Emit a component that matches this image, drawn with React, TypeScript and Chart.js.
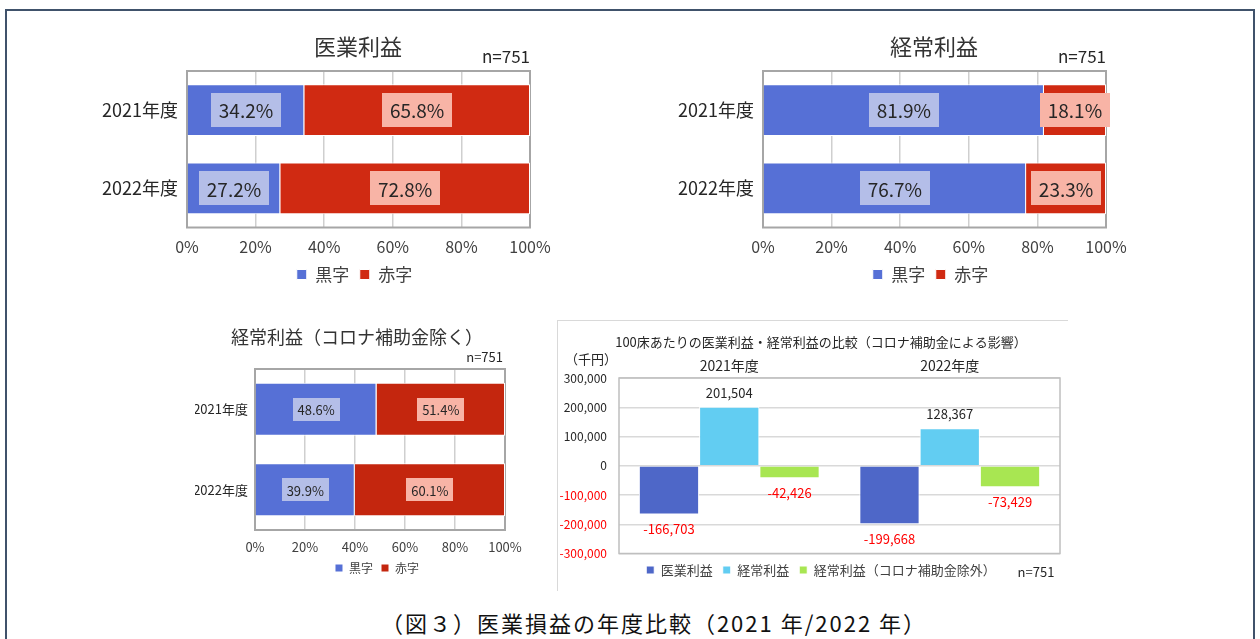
import React, { useEffect, useRef } from 'react';
import { Chart, registerables } from 'chart.js';
Chart.register(...registerables);

const FONT = '"Noto Sans CJK JP", "Noto Sans", sans-serif';

// ---- data ----
const years = ['2021年度', '2022年度'];
const profitNames = ['黒字', '赤字'];
const iryoKuroji = [34.2, 27.2];
const iryoAkaji = [65.8, 72.8];
const keijoKuroji = [81.9, 76.7];
const keijoAkaji = [18.1, 23.3];
const exKuroji = [48.6, 39.9];
const exAkaji = [51.4, 60.1];
const perBedNames = ['医業利益', '経常利益', '経常利益（コロナ補助金除外）'];
const perBedIryo = [-166703, -199668];
const perBedKeijo = [201504, 128367];
const perBedKeijoEx = [-42426, -73429];
const perBedTicks = [-300000, -200000, -100000, 0, 100000, 200000, 300000];

const fmt = (v: number) => Number(v).toLocaleString('en-US');

function measureWidest(labels: string[], size: number) {
  const c = document.createElement('canvas').getContext('2d') as CanvasRenderingContext2D;
  c.font = `normal ${size}px ${FONT}`;
  return Math.max(...labels.map((l) => c.measureText(l).width));
}

type TextItem = { text: string; x: number; y: number; size: number; align?: CanvasTextAlign; color?: string };

const textsPlugin = (items: TextItem[]) => ({
  id: 'texts',
  afterDraw(chart: any) {
    const ctx = chart.ctx;
    ctx.save();
    for (const t of items) {
      ctx.font = `${t.size}px ${FONT}`;
      ctx.fillStyle = t.color || '#262626';
      ctx.textAlign = t.align || 'center';
      ctx.textBaseline = 'middle';
      ctx.fillText(t.text, t.x, t.y);
    }
    ctx.restore();
  },
});

const framePlugin = (color: string, width: number) => ({
  id: 'frame',
  beforeDatasetsDraw(chart: any) {
    const { left, top, right, bottom } = chart.chartArea;
    const ctx = chart.ctx;
    ctx.save();
    ctx.strokeStyle = color;
    ctx.lineWidth = width;
    ctx.strokeRect(left, top, right - left, bottom - top);
    ctx.restore();
  },
});

const boxLabelPlugin = (boxColors: string[], size: number, padX: number, boxH: number) => ({
  id: 'boxLabels',
  afterDatasetsDraw(chart: any) {
    const ctx = chart.ctx;
    ctx.save();
    ctx.font = `${size}px ${FONT}`;
    ctx.textAlign = 'center';
    ctx.textBaseline = 'middle';
    chart.data.datasets.forEach((ds: any, i: number) => {
      const meta = chart.getDatasetMeta(i);
      meta.data.forEach((el: any, j: number) => {
        const txt = Number(ds.data[j]).toFixed(1) + '%';
        const cx = (el.x + el.base) / 2;
        const cy = el.y;
        const w = ctx.measureText(txt).width + padX * 2;
        ctx.fillStyle = boxColors[i];
        ctx.fillRect(Math.round(cx - w / 2), Math.round(cy - boxH / 2), Math.round(w), boxH);
        ctx.fillStyle = '#262626';
        ctx.fillText(txt, cx, cy + 1);
      });
    });
    ctx.restore();
  },
});

const valueLabelPlugin = {
  id: 'valueLabels',
  afterDatasetsDraw(chart: any) {
    const ctx = chart.ctx;
    ctx.save();
    ctx.font = `13px ${FONT}`;
    ctx.textAlign = 'center';
    ctx.textBaseline = 'middle';
    chart.data.datasets.forEach((ds: any, i: number) => {
      const meta = chart.getDatasetMeta(i);
      meta.data.forEach((el: any, j: number) => {
        const v = Number(ds.data[j]);
        const txt = fmt(v);
        if (v >= 0) {
          ctx.fillStyle = '#262626';
          ctx.fillText(txt, el.x, el.y - 14);
        } else {
          ctx.fillStyle = '#ff0000';
          ctx.fillText(txt, el.x, el.y + 15);
        }
      });
    });
    ctx.restore();
  },
};

function stackedConfig(opts: {
  kuroji: number[]; akaji: number[]; blue: string; red: string; yW: number; padL: number; padR: number; padT: number; padB: number;
  xH: number; labelSize: number; tickSize: number; tickPad: number; legendSize: number; legendBox: number; legendPad: number;
  barPct: number; frameW: number; gridW: number; yGap: number;
  texts: TextItem[]; boxPadX: number; boxH: number; dataSize: number;
}) {
  const widest = measureWidest(years, opts.labelSize);
  return {
    type: 'bar',
    data: {
      labels: years,
      datasets: [
        { label: profitNames[0], data: opts.kuroji, backgroundColor: opts.blue, borderColor: '#ffffff', borderWidth: 1, categoryPercentage: 1, barPercentage: opts.barPct },
        { label: profitNames[1], data: opts.akaji, backgroundColor: opts.red, borderColor: '#ffffff', borderWidth: 1, categoryPercentage: 1, barPercentage: opts.barPct },
      ],
    },
    options: {
      indexAxis: 'y',
      animation: false,
      responsive: false,
      maintainAspectRatio: false,
      layout: { padding: { left: opts.padL, right: opts.padR, top: opts.padT, bottom: opts.padB } },
      scales: {
        x: {
          stacked: true, min: 0, max: 100,
          ticks: { stepSize: 20, callback: (v: any) => v + '%', font: { family: FONT, size: opts.tickSize }, color: '#404040', padding: opts.tickPad, maxRotation: 0 },
          grid: { color: '#cfcfcf', lineWidth: opts.gridW, drawTicks: false },
          border: { display: false },
          afterFit: (a: any) => { a.height = opts.xH; },
        },
        y: {
          stacked: true,
          ticks: { font: { family: FONT, size: opts.labelSize }, color: '#262626', mirror: true, crossAlign: 'far', padding: -(opts.yGap + widest) },
          grid: { display: false, drawTicks: false },
          border: { display: false },
          afterFit: (a: any) => { a.width = opts.yW; },
        },
      },
      plugins: {
        legend: {
          position: 'bottom',
          labels: { font: { family: FONT, size: opts.legendSize }, color: '#404040', boxWidth: opts.legendBox, boxHeight: opts.legendBox, padding: opts.legendPad },
        },
        title: { display: false },
        tooltip: { enabled: false },
      },
    },
    plugins: [framePlugin('#a6a6a6', opts.frameW), boxLabelPlugin(['#b4bee8', '#f8b4a6'], opts.dataSize, opts.boxPadX, opts.boxH), textsPlugin(opts.texts)],
  };
}

function ChartCanvas({ config, left, top, width, height }: { config: () => any; left: number; top: number; width: number; height: number }) {
  const ref = useRef<HTMLCanvasElement>(null);
  useEffect(() => {
    const chart = new Chart(ref.current as HTMLCanvasElement, config());
    return () => chart.destroy();
  }, []);
  return (
    <div style={{ position: 'absolute', left, top, width, height }}>
      <canvas ref={ref} width={width} height={height} style={{ width, height, display: 'block' }} />
    </div>
  );
}

const bigOpts = {
  yW: 8, padL: 103, padR: 110, padT: 51, padB: 2, xH: 28, labelSize: 18, tickSize: 16, tickPad: 10,
  legendSize: 17, legendBox: 10, legendPad: 10.5, barPct: 0.66, frameW: 2, gridW: 1.5, yGap: 9,
  boxPadX: 8, boxH: 34, dataSize: 19,
};

const chart1 = () => stackedConfig({
  ...bigOpts, kuroji: iryoKuroji, akaji: iryoAkaji, blue: '#5670d6', red: '#d02a12',
  texts: [
    { text: '医業利益', x: 282, y: 27, size: 22, color: '#333333' },
    { text: 'n=751', x: 454, y: 37, size: 17, align: 'right' },
  ],
});

const chart2 = () => stackedConfig({
  ...bigOpts, kuroji: keijoKuroji, akaji: keijoAkaji, blue: '#5670d6', red: '#d02a12',
  texts: [
    { text: '経常利益', x: 282, y: 27, size: 22, color: '#333333' },
    { text: 'n=751', x: 454, y: 37, size: 17, align: 'right' },
  ],
});

const chart3 = () => stackedConfig({
  yW: 6, padL: 54, padR: 52, padT: 49, padB: 2, xH: 24, labelSize: 13, tickSize: 13, tickPad: 9,
  legendSize: 12, legendBox: 8, legendPad: 8, barPct: 0.66, frameW: 2, gridW: 1.5, yGap: 7,
  boxPadX: 5, boxH: 23, dataSize: 13,
  kuroji: exKuroji, akaji: exAkaji, blue: '#5670d6', red: '#c4260e',
  texts: [
    { text: '経常利益（コロナ補助金除く）', x: 162, y: 17, size: 18, color: '#333333' },
    { text: 'n=751', x: 308, y: 37, size: 13, align: 'right' },
  ],
});

const chart4 = () => {
  const widest = measureWidest(perBedTicks.map(fmt), 12);
  return {
    type: 'bar',
    data: {
      labels: years,
      datasets: [
        { label: perBedNames[0], data: perBedIryo, backgroundColor: '#4e67c8', borderColor: '#ffffff', borderWidth: 1, categoryPercentage: 0.82, barPercentage: 1 },
        { label: perBedNames[1], data: perBedKeijo, backgroundColor: '#62cdf2', borderColor: '#ffffff', borderWidth: 1, categoryPercentage: 0.82, barPercentage: 1 },
        { label: perBedNames[2], data: perBedKeijoEx, backgroundColor: '#a8e652', borderColor: '#ffffff', borderWidth: 1, categoryPercentage: 0.82, barPercentage: 1 },
      ],
    },
    options: {
      animation: false,
      responsive: false,
      maintainAspectRatio: false,
      layout: { padding: { left: 25, right: 7, top: 38, bottom: 1.5 } },
      scales: {
        x: {
          position: 'top',
          ticks: { font: { family: FONT, size: 14 }, color: '#262626', padding: 4 },
          grid: { display: false, drawTicks: false },
          border: { display: false },
          afterFit: (a: any) => { a.height = 20; },
        },
        y: {
          min: perBedTicks[0], max: perBedTicks[perBedTicks.length - 1],
          afterBuildTicks: (a: any) => { a.ticks = perBedTicks.map((v) => ({ value: v })); },
          ticks: {
            font: { family: FONT, size: 12 },
            color: (c: any) => (c.tick && c.tick.value < 0 ? '#ff0000' : '#262626'),
            mirror: true,
            crossAlign: 'far',
            padding: -(12 + widest),
            callback: (v: any) => fmt(v),
          },
          grid: { color: '#d9d9d9', lineWidth: 1.5, drawTicks: false },
          border: { display: false },
          afterFit: (a: any) => { a.width = 37; },
        },
      },
      plugins: {
        legend: {
          position: 'bottom',
          labels: { font: { family: FONT, size: 13 }, color: '#404040', boxWidth: 8, boxHeight: 8, padding: 10 },
        },
        title: { display: false },
        tooltip: { enabled: false },
      },
    },
    plugins: [
      framePlugin('#bfbfbf', 1.5),
      valueLabelPlugin,
      textsPlugin([
        { text: '100床あたりの医業利益・経常利益の比較（コロナ補助金による影響）', x: 264, y: 22, size: 13 },
        { text: '（千円）', x: 34, y: 39, size: 13 },
        { text: 'n=751', x: 479, y: 252, size: 13 },
      ]),
    ],
  };
};

export default function App() {
  return (
    <div style={{ position: 'absolute', left: 0, top: 0, width: 1260, height: 639, background: '#ffffff', overflow: 'hidden', fontFamily: FONT }}>
      <div style={{ position: 'absolute', left: 5, top: 9, width: 1246, height: 700, border: '2px solid #40526b' }} />
      <ChartCanvas config={chart1} left={76} top={20} width={564} height={275} />
      <ChartCanvas config={chart2} left={652} top={20} width={564} height={275} />
      <ChartCanvas config={chart3} left={195} top={320} width={362} height={266} />
      <div style={{ position: 'absolute', left: 557, top: 320, width: 510, height: 270, borderTop: '1px solid #d9d9d9', borderLeft: '1px solid #d9d9d9' }} />
      <ChartCanvas config={chart4} left={557} top={320} width={510} height={268} />
      <div style={{ position: 'absolute', left: 0, width: 1308, top: 608, textAlign: 'center', fontSize: 22, fontWeight: 400, letterSpacing: 2, color: '#111', lineHeight: '28px' }}>
        （図３）医業損益の年度比較（2021 年/2022 年）
      </div>
    </div>
  );
}
